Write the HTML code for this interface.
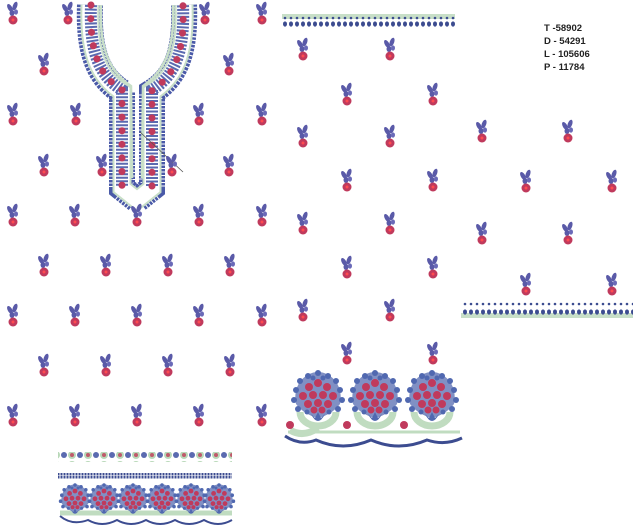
<!DOCTYPE html>
<html><head><meta charset="utf-8"><style>
html,body{margin:0;padding:0;background:#fff;}
svg{display:block}
.t{font-family:"Liberation Sans",sans-serif;font-weight:bold;font-size:9.5px;fill:#222}
</style></head><body>
<svg width="640" height="529" viewBox="0 0 640 529" xmlns="http://www.w3.org/2000/svg">
<defs>
<g id="m">
 <ellipse cx="-3" cy="-6" rx="2.2" ry="4.5" transform="rotate(-30 -3 -6)" fill="#5a5aa8"/>
 <ellipse cx="2" cy="-8" rx="2.2" ry="4.5" transform="rotate(20 2 -8)" fill="#5a5aa8"/>
 <ellipse cx="-1" cy="-1" rx="2.5" ry="3" fill="#5a5aa8"/>
 <ellipse cx="3" cy="-2" rx="2" ry="2.6" fill="#6a6ab8"/>
 <circle cx="0" cy="6" r="4.5" fill="#c03a5c"/>
 <circle cx="0" cy="6" r="1.5" fill="#ff4a50"/>
</g>
<pattern id="bd" width="6" height="14" patternUnits="userSpaceOnUse">
 <circle cx="3" cy="4" r="1.3" fill="#3c4c90"/>
 <ellipse cx="3" cy="10" rx="2" ry="2.6" fill="#3c4c90"/>
</pattern>
<pattern id="bd2" width="6" height="14" patternUnits="userSpaceOnUse">
 <ellipse cx="3" cy="4" rx="2" ry="2.6" fill="#3c4c90"/>
 <circle cx="3" cy="10" r="1.3" fill="#3c4c90"/>
</pattern>
<pattern id="fl" width="16" height="10" patternUnits="userSpaceOnUse">
 <circle cx="8" cy="5" r="4" fill="#b8d8b8"/>
 <circle cx="8" cy="5" r="2" fill="#c05a6a"/>
 <circle cx="0" cy="5" r="3" fill="#5a6ab0"/>
 <circle cx="16" cy="5" r="3" fill="#5a6ab0"/>
</pattern>
<pattern id="dt" width="3" height="7" patternUnits="userSpaceOnUse">
 <rect x="0.5" y="0" width="2" height="2.5" fill="#3c4c90"/>
 <rect x="0.5" y="4" width="2" height="2.5" fill="#3c4c90"/>
</pattern>
<g id="bq">
 <path d="M-22,6 C-26,-14 -12,-26 0,-26 C12,-26 26,-14 22,6 C16,14 8,18 0,20 C-8,18 -16,14 -22,6Z" fill="#8090c4"/>
 <g fill="#5068b0">
  <circle cx="-22" cy="-8" r="3"/><circle cx="22" cy="-8" r="3"/><circle cx="-24" cy="2" r="3"/><circle cx="24" cy="2" r="3"/>
  <circle cx="-18" cy="-17" r="3"/><circle cx="18" cy="-17" r="3"/><circle cx="-10" cy="-22" r="3"/><circle cx="10" cy="-22" r="3"/>
  <circle cx="0" cy="-25" r="3"/><circle cx="-20" cy="11" r="3"/><circle cx="20" cy="11" r="3"/>
  <circle cx="-5" cy="-20" r="2.5"/><circle cx="5" cy="-20" r="2.5"/>
  <circle cx="-16" cy="-3" r="2.5"/><circle cx="16" cy="-3" r="2.5"/>
  <circle cx="-11" cy="14" r="2.5"/><circle cx="11" cy="14" r="2.5"/>
  <path d="M-7,16 Q0,30 7,16 L3,20 L0,14 L-3,20Z"/>
 </g>
 <g fill="#c03a5c">
  <circle cx="0" cy="-15" r="4"/><circle cx="-9" cy="-11" r="4"/><circle cx="9" cy="-11" r="4"/>
  <circle cx="-15" cy="-2" r="4"/><circle cx="-5" cy="-3" r="4"/><circle cx="5" cy="-3" r="4"/><circle cx="15" cy="-2" r="4"/>
  <circle cx="-10" cy="6" r="4"/><circle cx="0" cy="5" r="4"/><circle cx="10" cy="6" r="4"/>
  <circle cx="-4" cy="12" r="3.5"/><circle cx="4" cy="12" r="3.5"/>
 </g>
</g>
</defs>

<!-- neckline -->
<g fill="none">
<path d="M90,5 C88,55 100,78 122,92 L122,188 L137,200 L152,188 L152,92 C174,78 186,55 184,5" stroke="#4a5aa8" stroke-width="26" stroke-dasharray="2.5 1"/>
<path d="M90,5 C88,55 100,78 122,92 L122,188 L137,200 L152,188 L152,92 C174,78 186,55 184,5" stroke="#c8dfc8" stroke-width="19"/>
<path d="M90,5 C88,55 100,78 122,92 L122,188 L137,200 L152,188 L152,92 C174,78 186,55 184,5" stroke="#fff" stroke-width="15"/>
<path d="M91,5 C89,55 101,77 122,90 L122,186 M152,186 L152,90 C173,77 185,55 183,5" stroke="#5a6ab0" stroke-width="12" stroke-dasharray="2 1.5"/>
<path d="M91,5 C89,55 101,77 122,90 L122,186 M152,186 L152,90 C173,77 185,55 183,5" stroke="#c03a5c" stroke-width="7" stroke-linecap="round" stroke-dasharray="0.1 13.5"/>
<path d="M101,5 C99,50 110,72 131,86 L132,178 M142,178 L143,86 C164,72 175,50 173,5" stroke="#c8dfc8" stroke-width="2.5"/>
<line x1="140" y1="132" x2="183" y2="172" stroke="#555" stroke-width="0.8"/>
</g>

<!-- motifs -->
<g>
<use href="#m" x="13" y="14"/><use href="#m" x="68" y="14"/><use href="#m" x="205" y="14"/><use href="#m" x="262" y="14"/>
<use href="#m" x="44" y="65"/><use href="#m" x="229" y="65"/>
<use href="#m" x="13" y="115"/><use href="#m" x="76" y="115"/><use href="#m" x="199" y="115"/><use href="#m" x="262" y="115"/>
<use href="#m" x="44" y="166"/><use href="#m" x="102" y="166"/><use href="#m" x="172" y="166"/><use href="#m" x="229" y="166"/>
<use href="#m" x="13" y="216"/><use href="#m" x="75" y="216"/><use href="#m" x="137" y="216"/><use href="#m" x="199" y="216"/><use href="#m" x="262" y="216"/>
<use href="#m" x="44" y="266"/><use href="#m" x="106" y="266"/><use href="#m" x="168" y="266"/><use href="#m" x="230" y="266"/>
<use href="#m" x="13" y="316"/><use href="#m" x="75" y="316"/><use href="#m" x="137" y="316"/><use href="#m" x="199" y="316"/><use href="#m" x="262" y="316"/>
<use href="#m" x="44" y="366"/><use href="#m" x="106" y="366"/><use href="#m" x="168" y="366"/><use href="#m" x="230" y="366"/>
<use href="#m" x="13" y="416"/><use href="#m" x="75" y="416"/><use href="#m" x="137" y="416"/><use href="#m" x="199" y="416"/><use href="#m" x="262" y="416"/>

<use href="#m" x="303" y="50"/><use href="#m" x="390" y="50"/>
<use href="#m" x="347" y="95"/><use href="#m" x="433" y="95"/>
<use href="#m" x="303" y="137"/><use href="#m" x="390" y="137"/>
<use href="#m" x="347" y="181"/><use href="#m" x="433" y="181"/>
<use href="#m" x="303" y="224"/><use href="#m" x="390" y="224"/>
<use href="#m" x="347" y="268"/><use href="#m" x="433" y="268"/>
<use href="#m" x="303" y="311"/><use href="#m" x="390" y="311"/>
<use href="#m" x="347" y="354"/><use href="#m" x="433" y="354"/>

<use href="#m" x="482" y="132"/><use href="#m" x="568" y="132"/>
<use href="#m" x="526" y="182"/><use href="#m" x="612" y="182"/>
<use href="#m" x="482" y="234"/><use href="#m" x="568" y="234"/>
<use href="#m" x="526" y="285"/><use href="#m" x="612" y="285"/>
</g>

<rect x="282" y="14" width="173" height="5" fill="#c8dfc8"/>
<rect x="282" y="14" width="173" height="16" fill="url(#bd)"/>
<rect x="461" y="313" width="172" height="5" fill="#c8dfc8"/>
<rect x="461" y="302" width="172" height="14" fill="url(#bd2)"/>

<text class="t" x="544" y="31">T -58902</text>
<text class="t" x="544" y="44">D - 54291</text>
<text class="t" x="544" y="57">L - 105606</text>
<text class="t" x="544" y="70">P - 11784</text>

<g>
<path d="M285,436 Q300,446 316,440 Q343,452 371,440 Q399,452 427,440 Q445,446 462,438" fill="none" stroke="#3c4c90" stroke-width="3"/>
<g fill="none" stroke="#c0dcc0" stroke-width="7">
<path d="M290,430 Q303,438 318,428"/>
<path d="M300,412 A18,14 0 0 0 336,412"/>
<path d="M357,412 A18,14 0 0 0 393,412"/>
<path d="M414,412 A18,14 0 0 0 450,412"/>
<path d="M288,432 L460,432" stroke-width="3"/>
</g>
<use href="#bq" x="318" y="398"/><use href="#bq" x="375" y="398"/><use href="#bq" x="432" y="398"/>
<circle cx="290" cy="425" r="4" fill="#c03a5c"/><circle cx="347" cy="425" r="4" fill="#c03a5c"/><circle cx="404" cy="425" r="4" fill="#c03a5c"/>
</g>

<rect x="58" y="452" width="174" height="10" fill="url(#fl)"/>
<rect x="58" y="472" width="174" height="7" fill="url(#dt)"/>
<g>
<path d="M60,516 Q72,526 88,520 Q102,528 117,520 Q131,528 146,520 Q160,528 175,520 Q189,528 204,520 Q218,528 232,520" fill="none" stroke="#3c4c90" stroke-width="2"/>
<path d="M60,513 L232,513" stroke="#c0dcc0" stroke-width="5"/>
<use href="#bq" transform="translate(75,500) scale(0.6)"/>
<use href="#bq" transform="translate(104,500) scale(0.6)"/>
<use href="#bq" transform="translate(133,500) scale(0.6)"/>
<use href="#bq" transform="translate(162,500) scale(0.6)"/>
<use href="#bq" transform="translate(191,500) scale(0.6)"/>
<use href="#bq" transform="translate(219,500) scale(0.6)"/>
</g>
</svg>
</body></html>
